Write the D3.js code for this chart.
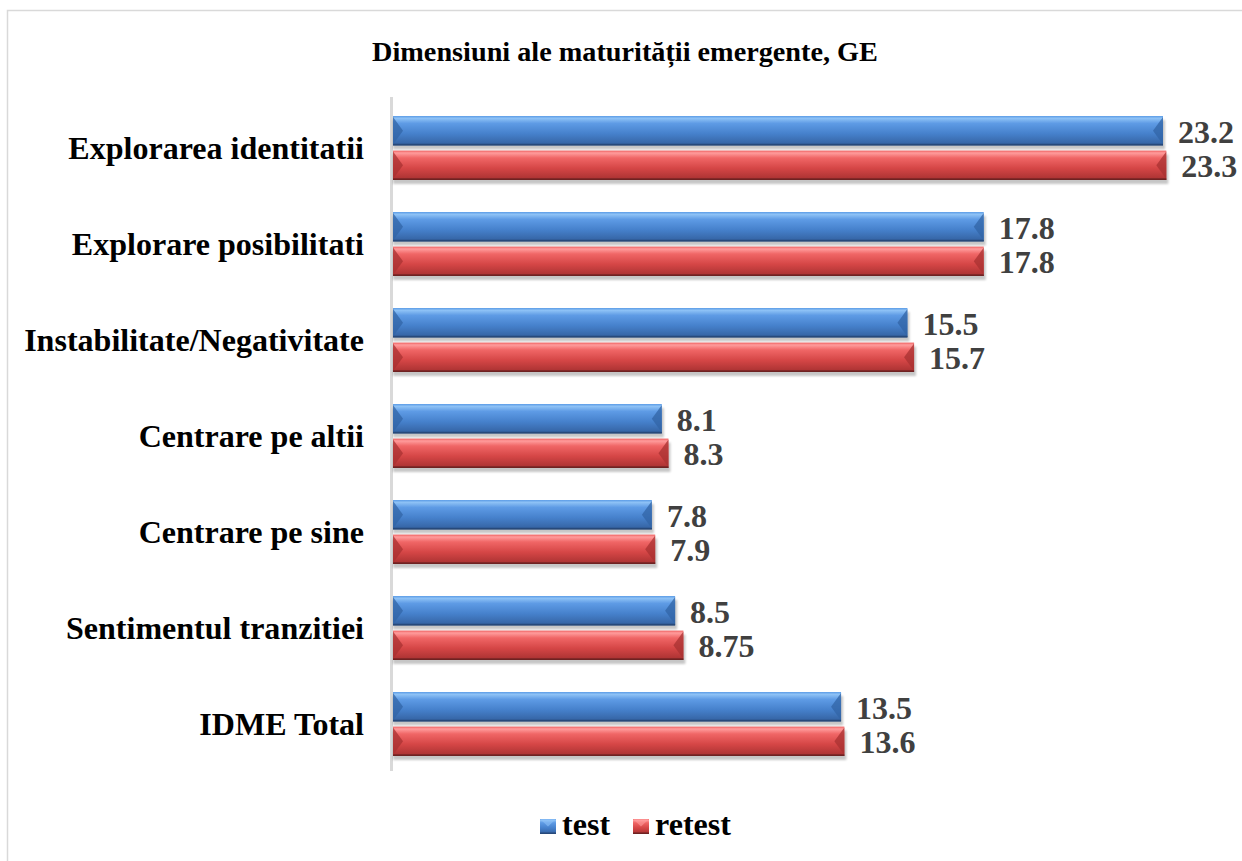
<!DOCTYPE html>
<html><head><meta charset="utf-8">
<script src="https://cdn.jsdelivr.net/npm/d3@7"></script>
<style>html,body{margin:0;padding:0;background:#fff;}svg{display:block;}</style>
</head><body>
<script>
const categories = ["Explorarea identitatii","Explorare posibilitati","Instabilitate/Negativitate","Centrare pe altii","Centrare pe sine","Sentimentul tranzitiei","IDME Total"];
const seriesNames = ["test","retest"];
const testValues = [23.2,17.8,15.5,8.1,7.8,8.5,13.5];
const retestValues = [23.3,17.8,15.7,8.3,7.9,8.75,13.6];
const valueLabels = [["23.2","17.8","15.5","8.1","7.8","8.5","13.5"],["23.3","17.8","15.7","8.3","7.9","8.75","13.6"]];
const title = "Dimensiuni ale maturității emergente, GE";

const FONT = "'Liberation Serif','Times New Roman',serif";
const W = 1242, H = 861;
const svg = d3.select("body").append("svg").attr("width", W).attr("height", H);
const defs = svg.append("defs");

function fitSize(sample, target) {
  const t = svg.append("text").attr("font-family", FONT).attr("font-weight","bold").attr("font-size",100).text(sample);
  const len = t.node().getComputedTextLength();
  t.remove();
  return len > 0 ? 100 * target / len : 30;
}
const titleSize = fitSize(title, 506);
const catSize = fitSize("Instabilitate/Negativitate", 340);
const valSize = fitSize("23.2", 56);
const legSize = fitSize("retest", 76);

const pal = {
  test: {stops:["#5b9be6","#8ec2f6","#5e9be5","#4681cc","#3767a8","#27497a"], tri:"#3264a6"},
  retest: {stops:["#ef6060","#ff9c9c","#f06666","#d54646","#b03535","#6e2222"], tri:"#a83232"}
};
const offs = ["0%","8%","25%","60%","92%","100%"];
seriesNames.forEach(s => {
  const g = defs.append("linearGradient").attr("id","g-"+s).attr("x1",0).attr("y1",0).attr("x2",0).attr("y2",1);
  pal[s].stops.forEach((c,k) => g.append("stop").attr("offset",offs[k]).attr("stop-color",c));
});
const blur = defs.append("filter").attr("id","sh").attr("x","-5%").attr("y","-50%").attr("width","110%").attr("height","200%");
blur.append("feGaussianBlur").attr("stdDeviation",1.2);

svg.append("rect").attr("x",7.5).attr("y",10.5).attr("width",W).attr("height",H).attr("fill","none").attr("stroke","#d9d9d9").attr("stroke-width",1.5);

const x = d3.scaleLinear().domain([0, 23.2]).range([393, 1163]);
const y = d3.scaleBand().domain(categories).range([100, 772]);
const yi = d3.scaleBand().domain(seriesNames).range([16, 80]).paddingInner(0.15);

svg.append("text").attr("x",625).attr("y",61).attr("text-anchor","middle")
  .attr("font-family",FONT).attr("font-weight","bold")
  .attr("font-size",titleSize).attr("fill","#000").text(title);

svg.append("line").attr("x1",391.5).attr("x2",391.5).attr("y1",97).attr("y2",771).attr("stroke","#d9d9d9").attr("stroke-width",3);

const data = [];
categories.forEach((c,i) => {
  data.push({c, s:"test", v:testValues[i], lab:valueLabels[0][i]});
  data.push({c, s:"retest", v:retestValues[i], lab:valueLabels[1][i]});
});

const g = svg.append("g");
g.selectAll("rect.sh").data(data).enter().append("rect").attr("class","sh")
  .attr("x", x(0)).attr("y", d => y(d.c)+yi(d.s)+4).attr("width", d => x(d.v)-x(0)+2).attr("height", yi.bandwidth())
  .attr("fill","#000").attr("opacity",0.22).attr("filter","url(#sh)");
g.selectAll("rect.bar").data(data).enter().append("rect").attr("class","bar")
  .attr("x", x(0)).attr("y", d => y(d.c)+yi(d.s)).attr("width", d => x(d.v)-x(0)).attr("height", yi.bandwidth())
  .attr("fill", d => "url(#g-"+d.s+")");
const tri = 10;
g.selectAll("path.lb").data(data).enter().append("path").attr("class","lb")
  .attr("d", d => { const y0=y(d.c)+yi(d.s), h=yi.bandwidth(), x0=x(0);
    return `M${x0},${y0+1}L${x0+tri},${y0+h/2}L${x0},${y0+h-1}Z`; })
  .attr("fill", d => pal[d.s].tri).attr("opacity",0.75);
g.selectAll("path.rb").data(data).enter().append("path").attr("class","rb")
  .attr("d", d => { const y0=y(d.c)+yi(d.s), h=yi.bandwidth(), x1=x(d.v);
    return `M${x1},${y0+1}L${x1-tri},${y0+h/2}L${x1},${y0+h-1}Z`; })
  .attr("fill", d => pal[d.s].tri).attr("opacity",0.75);
g.selectAll("rect.be").data(data).enter().append("rect").attr("class","be")
  .attr("x", x(0)).attr("y", d => y(d.c)+yi(d.s)+yi.bandwidth()-1.5).attr("width", d => x(d.v)-x(0)).attr("height",1.5)
  .attr("fill", d => pal[d.s].stops[5]);

g.selectAll("text.val").data(data).enter().append("text").attr("class","val")
  .attr("x", d => x(d.v)+15).attr("y", d => y(d.c)+yi(d.s)+yi.bandwidth()/2+12)
  .attr("font-family",FONT).attr("font-weight","bold")
  .attr("font-size",valSize).attr("fill","#404040").text(d => d.lab);

svg.selectAll("text.cat").data(categories).enter().append("text").attr("class","cat")
  .attr("x",364).attr("y", d => y(d)+y.bandwidth()/2).attr("dy","0.35em").attr("text-anchor","end")
  .attr("font-family",FONT).attr("font-weight","bold")
  .attr("font-size",catSize).attr("fill","#000").text(d => d);

const leg = svg.append("g");
const legX = [540, 633];
seriesNames.forEach((s,i) => {
  const lg = leg.append("g").attr("transform",`translate(${legX[i]},819)`);
  lg.append("rect").attr("width",16).attr("height",15).attr("fill","url(#g-"+s+")");
  lg.append("path").attr("d","M0,0L8,7.5L16,0Z").attr("fill",pal[s].stops[1]).attr("opacity",0.6);
  lg.append("rect").attr("y",13.5).attr("width",16).attr("height",1.5).attr("fill",pal[s].stops[5]);
  lg.append("text").attr("x",22).attr("y",16).attr("font-family",FONT)
    .attr("font-weight","bold").attr("font-size",legSize).attr("fill","#000").text(s);
});
</script>
</body></html>
